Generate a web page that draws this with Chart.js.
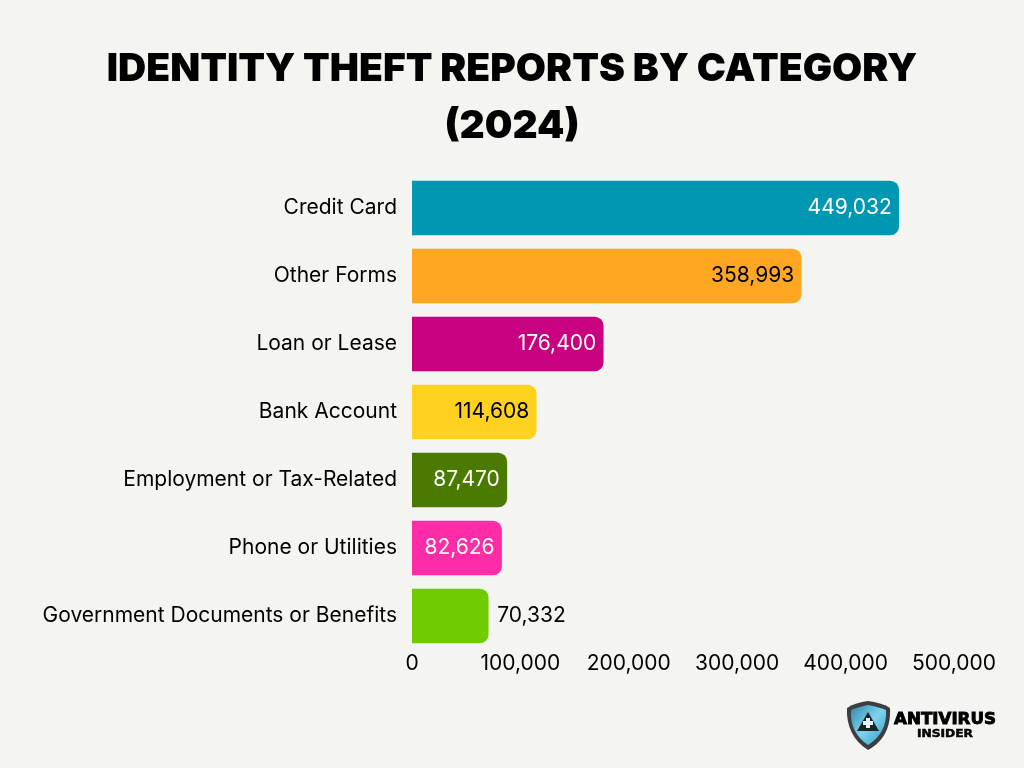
<!DOCTYPE html>
<html><head><meta charset="utf-8">
<script src="https://cdn.jsdelivr.net/npm/chart.js@4"></script>
<style>
html,body{margin:0;padding:0;background:#F4F5F1;width:1024px;height:768px;overflow:hidden}
#wrap{position:relative;width:1024px;height:768px}
canvas{display:block}
#logo{position:absolute;left:840px;top:695px}
</style></head><body>
<div id="wrap"><canvas id="c" width="1024" height="768"></canvas>
<svg id="logo" width="170" height="62" viewBox="840 695 170 62">
<defs><linearGradient id="g" x1="0" y1="0" x2="1" y2="1"><stop offset="0" stop-color="#2E87A8"/><stop offset=".5" stop-color="#7FD3EE"/><stop offset="1" stop-color="#2F9CC4"/></linearGradient></defs>
<path d="M868 701 C876 702 884 704 890 708 C891 725 885 741 868 750 C853 741 846 725 847 708 C853 704 860 702 868 701Z" fill="#3c3f42"/>
<path d="M868 705 C875 706 881 708 886 710 C887 725 881 737 868 745 C856 737 850 725 851 710 C856 708 862 706 868 705Z" fill="url(#g)"/>
<path d="M868 712 L879 731 L857 731Z" fill="#1d2326"/>
<path d="M866 718h4v3h3v4h-3v3h-4v-3h-3v-4h3z" fill="#E3F4FA"/>
<text x="894" y="724" font-family="DejaVu Sans" font-weight="bold" font-size="16.5" textLength="102" lengthAdjust="spacingAndGlyphs" fill="#000" stroke="#000" stroke-width=".9">ANTIVIRUS</text>
<text x="917" y="737" font-family="DejaVu Sans" font-weight="bold" font-size="11" textLength="56" lengthAdjust="spacingAndGlyphs" fill="#000" stroke="#000" stroke-width=".5">INSIDER</text>
</svg></div>
<script>
const categories = ["Credit Card","Other Forms","Loan or Lease","Bank Account","Employment or Tax-Related","Phone or Utilities","Government Documents or Benefits"];
const reports = [449032,358993,176400,114608,87470,82626,70332];
const barColors = ["#0097B2","#FFA623","#C9007F","#FFD21F","#4A7A00","#FF2CA8","#70CC00"];
const labelColors = ["#FFFFFF","#000000","#FFFFFF","#000000","#FFFFFF","#FFFFFF","#000000"];
const labelOutside = [false,false,false,false,false,false,true];
const titleLines = ["IDENTITY THEFT REPORTS BY CATEGORY","(2024)"];
const fontFam = "Inter";
const fmt = v => v.toLocaleString("en-US");

const valueLabels = {
  id:"valueLabels",
  afterLayout(chart){
    if(chart.titleBlock){chart.titleBlock.left=0;chart.titleBlock.right=chart.width;}
  },
  afterDatasetsDraw(chart){
    const {ctx} = chart;
    ctx.save();
    ctx.font = "21px "+fontFam;
    ctx.textBaseline = "middle";
    chart.getDatasetMeta(0).data.forEach((bar,i)=>{
      ctx.fillStyle = labelColors[i];
      if(labelOutside[i]){ctx.textAlign="left";ctx.fillText(fmt(reports[i]),bar.x+9,bar.y);}
      else{ctx.textAlign="right";ctx.fillText(fmt(reports[i]),bar.x-7,bar.y);}
    });
    ctx.restore();
  }
};

new Chart(document.getElementById("c"),{
  type:"bar",
  data:{labels:categories,datasets:[{data:reports,backgroundColor:barColors,barThickness:54,
    borderRadius:{topLeft:0,bottomLeft:0,topRight:9,bottomRight:9},borderSkipped:false,borderWidth:0}]},
  plugins:[valueLabels],
  options:{
    indexAxis:"y",responsive:false,animation:false,devicePixelRatio:1,
    layout:{padding:{left:0,right:70,top:0,bottom:0}},
    plugins:{
      legend:{display:false},tooltip:{enabled:false},
      title:{display:true,text:titleLines,color:"#000",
        font:{family:"Inter",weight:"900",size:39,lineHeight:1.4615},
        padding:{top:41,bottom:19}}
    },
    scales:{
      y:{grid:{display:false,drawTicks:false},border:{display:false},
        ticks:{color:"#000",font:{family:fontFam,size:21},padding:15},
        afterFit(s){s.width=412;}},
      x:{min:0,max:500000,grid:{display:false,drawTicks:false},border:{display:false},
        ticks:{stepSize:100000,color:"#000",font:{family:fontFam,size:21},padding:1,maxRotation:0,callback:v=>fmt(v)},
        afterFit(s){s.height=118;}}
    }
  }
});
</script></body></html>
